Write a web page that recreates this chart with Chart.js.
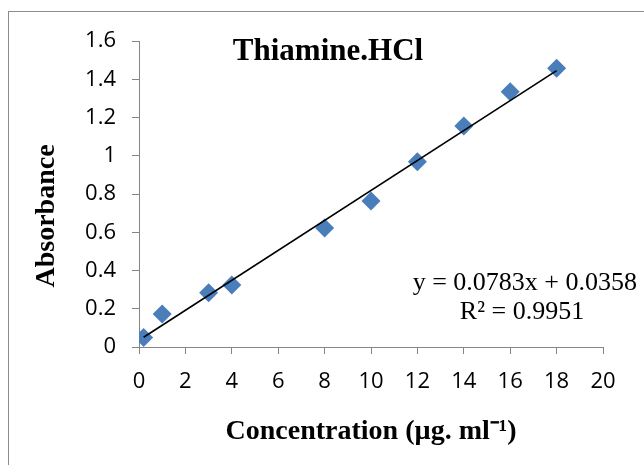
<!DOCTYPE html>
<html>
	<head>
		<title>Thiamine.HCl</title>
		<script src="https://cdn.jsdelivr.net/npm/chart.js@4.4.0/dist/chart.umd.min.js"></script>
		<style>
			html, body { margin: 0; padding: 0; background: #fff; }
			#wrap { position: relative; width: 644px; height: 465px; }
		</style>
	</head>
	<body>
		<div id="wrap"><canvas id="myChart"></canvas></div>
		<script>
			// dane
			const concentration = [0.2, 1, 3, 4, 8, 10, 12, 14, 16, 18];
			const absorbance = [0.05, 0.173, 0.284, 0.324, 0.622, 0.763, 0.969, 1.156, 1.335, 1.457];
			// linia trendu (punkty końcowe)
			const trendX = [0.2, 18];
			const trendY = [0.051, 1.445];
			const equationLines = ['y = 0.0783x + 0.0358', 'R² = 0.9951'];
			const chartTitle = 'Thiamine.HCl';
			const yTitle = 'Absorbance';

			const serif = '"Liberation Serif", "Times New Roman", serif';
			const sans = '"Open Sans", "Noto Sans", sans-serif';

			// ramka, tytuły i równanie
			const extras = {
				id: 'extras',
				beforeDraw(chart) {
					const c = chart.ctx;
					c.save();
					c.strokeStyle = '#8c8c8c';
					c.lineWidth = 1;
					c.strokeRect(8.5, 11.5, 700, 500);
					c.restore();
				},
				afterDraw(chart) {
					const c = chart.ctx;
					c.save();
					c.fillStyle = '#000';
					c.textBaseline = 'middle';
					c.textAlign = 'center';
					c.font = 'bold 31px ' + serif;
					c.fillText(chartTitle, 328, 52);
					c.textAlign = 'right';
					c.font = '26px ' + serif;
					c.fillText(equationLines[0], 637, 283);
					c.textAlign = 'center';
					c.fillText(equationLines[1], 522, 312);
					// tytuł osi Y
					c.translate(47, 216);
					c.rotate(-Math.PI / 2);
					c.font = 'bold 28px ' + serif;
					c.fillText(yTitle, 0, 0);
					c.restore();
				}
			};

			const axisColor = '#868686';
			const ctx = document.getElementById('myChart').getContext('2d');
			const chart = new Chart(ctx, {
				type: 'scatter',
				data: {
					datasets: [{
						label: 'Absorbance',
						data: concentration.map((x, i) => ({ x: x, y: absorbance[i] })),
						pointStyle: 'rectRot',
						pointRadius: 9.5,
						pointHoverRadius: 9.5,
						backgroundColor: '#4a7ebb',
						borderColor: '#4a7ebb',
						borderWidth: 0,
						order: 2
					}, {
						label: 'Trend',
						type: 'line',
						data: trendX.map((x, i) => ({ x: x, y: trendY[i] })),
						borderColor: '#000',
						borderWidth: 1.6,
						pointRadius: 0,
						fill: false,
						order: 1
					}]
				},
				options: {
					responsive: true,
					maintainAspectRatio: false,
					animation: false,
					layout: { padding: { top: 41, right: 41, left: 0, bottom: 0 } },
					plugins: {
						legend: { display: false },
						tooltip: { enabled: false }
					},
					scales: {
						x: {
							type: 'linear',
							min: 0,
							max: 20,
							ticks: { stepSize: 2, color: '#000', padding: 15, font: { family: sans, size: 22 } },
							grid: { drawOnChartArea: false, drawTicks: true, tickLength: 7, color: axisColor },
							border: { color: axisColor, width: 1 },
							title: {
								display: true,
								text: 'Concentration (µg. ml⁻¹)',
								color: '#000',
								font: { family: serif, size: 28, weight: 'bold' },
								padding: { top: 0, bottom: 16 }
							},
							afterFit(scale) { scale.height = 118; }
						},
						y: {
							min: 0,
							max: 1.6,
							ticks: {
								stepSize: 0.2,
								color: '#000',
								padding: 16,
								font: { family: sans, size: 22 },
								callback: (v) => String(Number(v.toFixed(1)))
							},
							grid: { drawOnChartArea: false, drawTicks: true, tickLength: 7, color: axisColor },
							border: { color: axisColor, width: 1 },
							afterFit(scale) { scale.width = 139; }
						}
					}
				},
				plugins: [extras]
			});
		</script>
	</body>
</html>
